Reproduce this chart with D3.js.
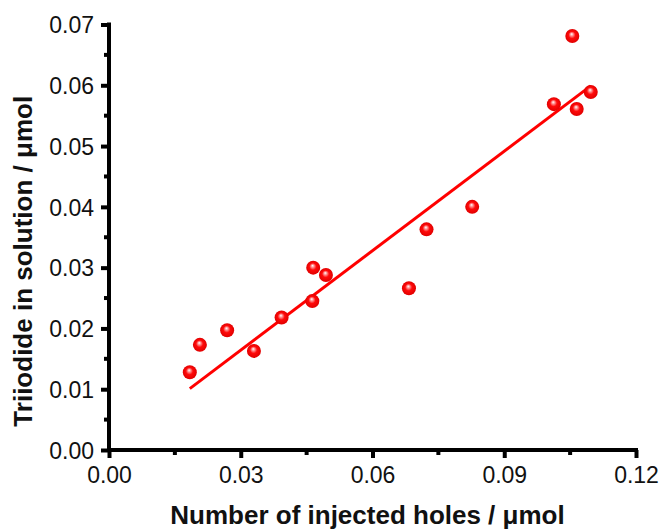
<!DOCTYPE html>
<html>
<head>
<meta charset="utf-8">
<script src="https://cdn.jsdelivr.net/npm/d3@7"></script>
<style>
  html, body { margin: 0; padding: 0; background: #fff; }
  svg { display: block; }
</style>
</head>
<body>
<svg></svg>
<script>
// 数据点
const holes = [0.0184, 0.0207, 0.0269, 0.0330, 0.0393, 0.0463, 0.0465, 0.0494,
               0.0683, 0.0723, 0.0827, 0.1013, 0.1055, 0.1065, 0.1097];
const triiodide = [0.0128, 0.0173, 0.0197, 0.0163, 0.0218, 0.0245, 0.0300, 0.0288,
                   0.0266, 0.0363, 0.0400, 0.0569, 0.0681, 0.0561, 0.0589];

// 拟合直线端点
const fitX = [0.0184, 0.1097];
const fitY = [0.0101, 0.0599];

const xTicks = [0, 0.03, 0.06, 0.09, 0.12];
const yTicks = [0, 0.01, 0.02, 0.03, 0.04, 0.05, 0.06, 0.07];
const xMinor = [0.015, 0.045, 0.075, 0.105];
const yMinor = [0.005, 0.015, 0.025, 0.035, 0.045, 0.055, 0.065];

const [chartWidth, chartHeight] = [659, 531];
const margin = {top: 24.5, right: 23, bottom: 81, left: 109};

const svg = d3.select('svg')
    .attr('width', chartWidth)
    .attr('height', chartHeight)
    .style('font-family', 'Arial, "Liberation Sans", sans-serif');

const x = d3.scaleLinear()
    .domain([0, 0.12])
    .range([margin.left, chartWidth - margin.right]);

const y = d3.scaleLinear()
    .domain([0, 0.07])
    .range([chartHeight - margin.bottom, margin.top]);

// 球形标记的渐变
const grad = svg.append('defs').append('radialGradient')
    .attr('id', 'ball')
    .attr('cx', '50%').attr('cy', '50%').attr('r', '50%')
    .attr('fx', '45%').attr('fy', '35%');
grad.append('stop').attr('offset', '0%').attr('stop-color', '#ffffff');
grad.append('stop').attr('offset', '22%').attr('stop-color', '#ff9090');
grad.append('stop').attr('offset', '50%').attr('stop-color', '#ff0a0a');
grad.append('stop').attr('offset', '100%').attr('stop-color', '#e00000');

// 坐标轴（刻度与标签）
const xAxis = svg.append('g')
    .attr('transform', `translate(0,${y(0)})`)
    .call(d3.axisBottom(x).tickValues(xTicks).tickFormat(d3.format('.2f'))
        .tickSizeInner(8).tickSizeOuter(0).tickPadding(9));

const yAxis = svg.append('g')
    .attr('transform', `translate(${x(0)},0)`)
    .call(d3.axisLeft(y).tickValues(yTicks).tickFormat(d3.format('.2f'))
        .tickSizeInner(8).tickSizeOuter(0).tickPadding(7));

[xAxis, yAxis].forEach(g => {
    g.select('.domain').remove();
    g.selectAll('.tick line').attr('stroke', '#000').attr('stroke-width', 4);
    g.selectAll('.tick text')
        .attr('fill', '#111')
        .style('font-size', '23px');
});
yAxis.selectAll('.tick text').attr('dy', '0.36em');

// 轴线
svg.append('line')
    .attr('x1', x(0) - 2).attr('x2', x(0.12) + 2)
    .attr('y1', y(0)).attr('y2', y(0))
    .attr('stroke', '#000').attr('stroke-width', 4);
svg.append('line')
    .attr('x1', x(0)).attr('x2', x(0))
    .attr('y1', y(0) + 2).attr('y2', y(0.07) - 2)
    .attr('stroke', '#000').attr('stroke-width', 4);

// 次刻度
svg.append('g').selectAll('line')
    .data(xMinor)
    .enter()
    .append('line')
    .attr('x1', d => x(d)).attr('x2', d => x(d))
    .attr('y1', y(0)).attr('y2', y(0) + 5)
    .attr('stroke', '#000').attr('stroke-width', 4);

svg.append('g').selectAll('line')
    .data(yMinor)
    .enter()
    .append('line')
    .attr('y1', d => y(d)).attr('y2', d => y(d))
    .attr('x1', x(0)).attr('x2', x(0) - 5)
    .attr('stroke', '#000').attr('stroke-width', 4);

// 拟合线
svg.append('path')
    .datum(fitX.map((d, i) => [d, fitY[i]]))
    .attr('d', d3.line().x(d => x(d[0])).y(d => y(d[1])))
    .attr('fill', 'none')
    .attr('stroke', '#ff0000')
    .attr('stroke-width', 3);

// 数据点
svg.append('g').selectAll('circle')
    .data(holes.map((d, i) => [d, triiodide[i]]))
    .enter()
    .append('circle')
    .attr('cx', d => x(d[0]))
    .attr('cy', d => y(d[1]))
    .attr('r', 7)
    .attr('fill', 'url(#ball)');

// 轴标题
svg.append('text')
    .attr('x', 367.5)
    .attr('y', 524)
    .attr('text-anchor', 'middle')
    .style('font-size', '26px')
    .style('font-weight', 'bold')
    .attr('fill', '#111')
    .text('Number of injected holes / μmol');

svg.append('text')
    .attr('transform', `translate(32,${(y(0) + y(0.07)) / 2 + 24}) rotate(-90)`)
    .attr('text-anchor', 'middle')
    .style('font-size', '26px')
    .style('font-weight', 'bold')
    .attr('fill', '#111')
    .text('Triiodide in solution / μmol');
</script>
</body>
</html>
